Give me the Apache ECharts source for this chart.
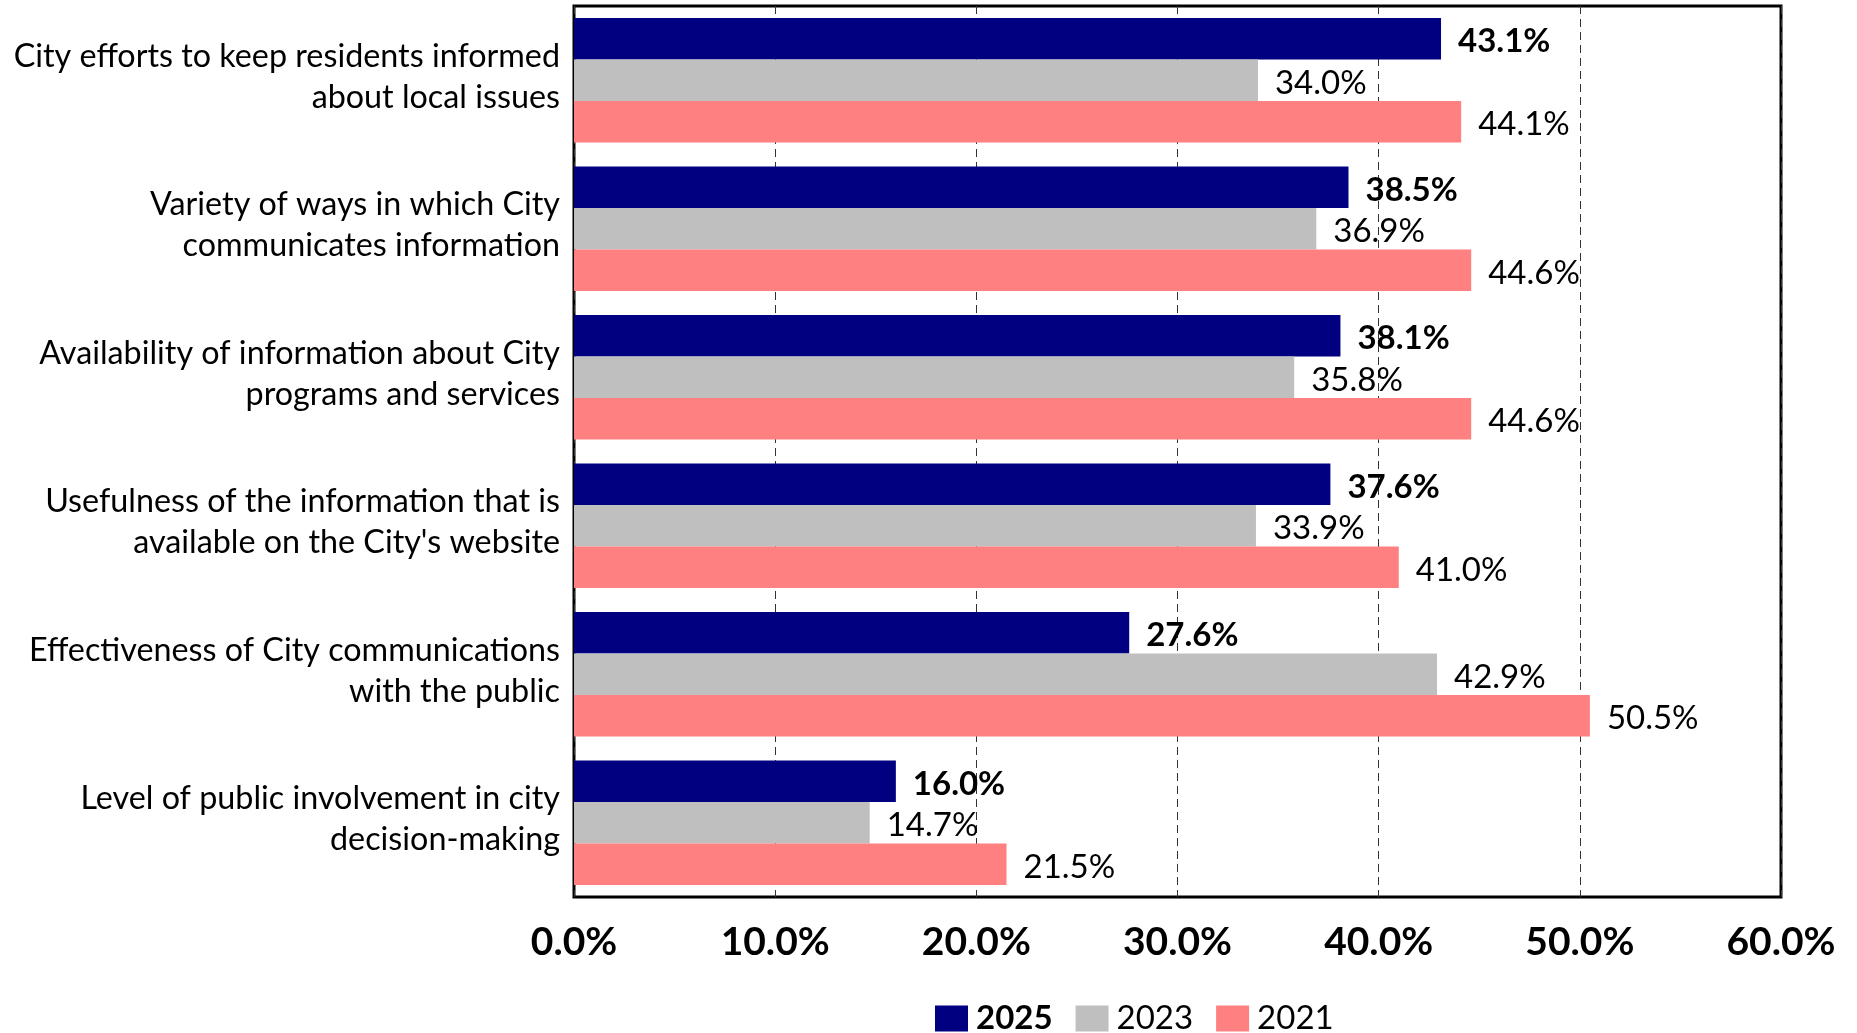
<!DOCTYPE html>
<html>
<head>
<meta charset="utf-8">
<script src="https://cdn.jsdelivr.net/npm/echarts@6/dist/echarts.min.js"></script>
<style>
  html, body { margin: 0; padding: 0; background: #fff; }
  #chart { width: 1857px; height: 1033px; }
</style>
</head>
<body>
<div id="chart"></div>
<script>
// Survey items, top to bottom
var categories = [
  'City efforts to keep residents informed\nabout local issues',
  'Variety of ways in which City\ncommunicates information',
  'Availability of information about City\nprograms and services',
  'Usefulness of the information that is\navailable on the City\'s website',
  'Effectiveness of City communications\nwith the public',
  'Level of public involvement in city\ndecision-making'
];

// Percent values per survey year
var values2025 = [43.1, 38.5, 38.1, 37.6, 27.6, 16.0];
var values2023 = [34.0, 36.9, 35.8, 33.9, 42.9, 14.7];
var values2021 = [44.1, 44.6, 44.6, 41.0, 50.5, 21.5];

var seriesNames = ['2025', '2023', '2021'];
var seriesColors = ['#000080', '#BFBFBF', '#FF8080'];

// Percentage axis ticks
var axisMin = 0, axisMax = 60, axisStep = 10;

var FONT = 'Lato';

function pct(v) { return v.toFixed(1) + '%'; }

function makeSeries(name, data, color, bold) {
  return {
    name: name,
    type: 'bar',
    data: data,
    barCategoryGap: '16%',
    barGap: '0%',
    itemStyle: { color: color },
    label: {
      show: true,
      position: 'right',
      distance: 17,
      offset: [0, 3],
      color: '#000',
      fontFamily: FONT,
      fontSize: 33,
      fontWeight: bold ? 'bold' : 'normal',
      formatter: function (p) { return pct(p.value); }
    }
  };
}

var chart = echarts.init(document.getElementById('chart'));
chart.setOption({
  animation: false,
  backgroundColor: '#fff',
  grid: {
    left: 574, right: 76, top: 6, height: 891,
    show: true, borderColor: '#000', borderWidth: 3, backgroundColor: 'transparent'
  },
  legend: {
    data: seriesNames,
    left: 935, top: 1002, padding: 0,
    itemWidth: 33, itemHeight: 26, itemGap: 23,
    icon: 'rect',
    textStyle: {
      fontFamily: FONT, fontSize: 33, color: '#000', padding: [0, 0, 0, 3],
      rich: { b: { fontFamily: FONT, fontSize: 33, fontWeight: 'bold', color: '#000' } }
    },
    formatter: function (n) { return n === '2025' ? '{b|' + n + '}' : n; }
  },
  xAxis: {
    type: 'value',
    min: axisMin, max: axisMax, interval: axisStep,
    axisLine: { show: false },
    axisTick: { show: false },
    splitLine: { show: true, lineStyle: { color: '#333', width: 1, type: [8, 5] } },
    axisLabel: {
      margin: 26,
      fontFamily: FONT, fontSize: 39, fontWeight: 'bold', color: '#000',
      formatter: function (v) { return pct(v); }
    }
  },
  yAxis: {
    type: 'category',
    data: categories,
    inverse: true,
    axisLine: { show: false },
    axisTick: { show: false },
    splitLine: { show: false },
    axisLabel: {
      margin: 14,
      align: 'right',
      verticalAlign: 'middle',
      // each text line as a rich token, plus a short spacer line beneath
      formatter: function (v) {
        return v.split('\n').map(function (l) { return '{t|' + l + '}'; }).join('\n') + '\n{s|}';
      },
      rich: {
        t: { fontFamily: FONT, fontSize: 32.3, color: '#000', lineHeight: 41, align: 'right' },
        s: { fontSize: 1, lineHeight: 7 }
      }
    }
  },
  series: [
    makeSeries(seriesNames[0], values2025, seriesColors[0], true),
    makeSeries(seriesNames[1], values2023, seriesColors[1], false),
    makeSeries(seriesNames[2], values2021, seriesColors[2], false)
  ]
});
</script>
</body>
</html>
